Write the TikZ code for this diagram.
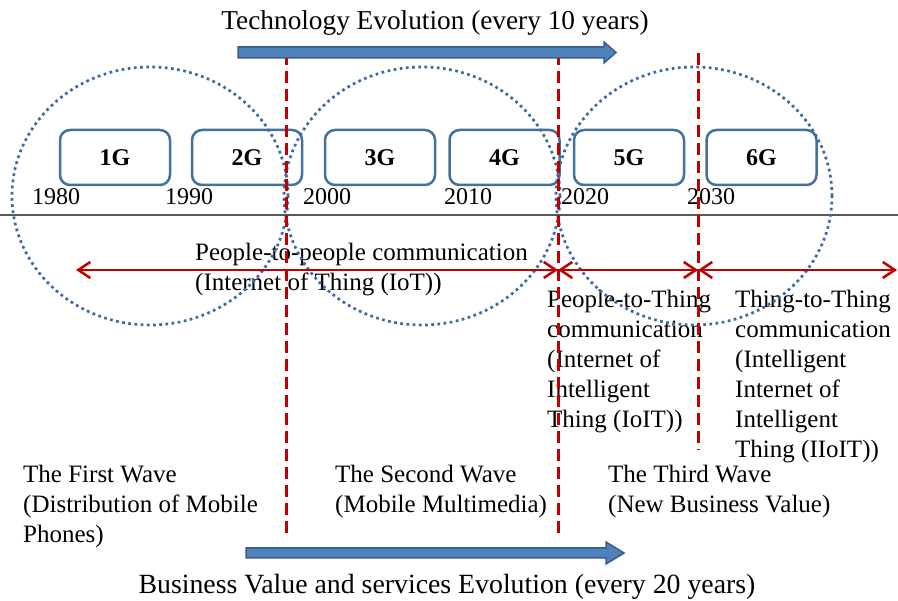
\documentclass[tikz,border=0pt]{standalone}
\usepackage{fontspec}
\setmainfont{Liberation Serif}
\usetikzlibrary{arrows.meta}
\definecolor{techblue}{HTML}{4F81BD}
\definecolor{techblueedge}{HTML}{385D8A}
\definecolor{boxedge}{HTML}{41719C}
\definecolor{dotblue}{HTML}{3C6AA0}
\definecolor{wavered}{HTML}{C00000}
\definecolor{axisgray}{HTML}{595959}
\tikzset{
 gbox/.style={draw=boxedge, line width=2.5pt, rounded corners=10pt, minimum width=110pt, minimum height=55pt, inner sep=0pt, font=\fontsize{24}{28}\selectfont\bfseries},
 yearlbl/.style={anchor=base west, inner sep=0pt, font=\fontsize{24}{28}\selectfont},
 bodytxt/.style={anchor=north west, inner sep=0pt, align=left, font=\fontsize{25}{30}\selectfont},
 titletxt/.style={anchor=base, inner sep=0pt, font=\fontsize{27.3}{32}\selectfont},
 era/.style={draw=dotblue, line width=2.7pt, dash pattern=on 2.7pt off 3.5pt},
 divider/.style={draw=wavered, line width=3pt, dash pattern=on 12pt off 6pt},
 commarrow/.style={draw=wavered, line width=2.5pt, {Straight Barb[length=12pt,width=16pt]}-{Straight Barb[length=12pt,width=16pt]}},
 bigarrow/.style={fill=techblue, draw=techblueedge, line width=1.5pt, line join=miter},
}
\begin{document}
\begin{tikzpicture}[x=1pt,y=-1pt]
\fill[white] (0,0) rectangle (898,601);
\useasboundingbox (0,0) rectangle (898,601);

% texts
\node[titletxt] (tech) at (435,30) {Technology Evolution (every 10 years)};
\node[titletxt, font=\fontsize{27.8}{32}\selectfont] (biz) at (447,594) {Business Value and services Evolution (every 20 years)};
\node[bodytxt] (p2p) at (195,239) {\strut People-to-people communication\\\strut(Internet of Thing (IoT))};
\node[bodytxt] (p2t) at (547,286) {\strut People-to-Thing\\\strut communication\\\strut(Internet of\\\strut Intelligent\\\strut Thing (IoIT))};
\node[bodytxt] (t2t) at (735,286) {\strut Thing-to-Thing\\\strut communication\\\strut(Intelligent\\\strut Internet of\\\strut Intelligent\\\strut Thing (IIoIT))};
\node[bodytxt] (wave1) at (23,461) {\strut The First Wave\\\strut(Distribution of Mobile\\\strut Phones)};
\node[bodytxt] (wave2) at (335,461) {\strut The Second Wave\\\strut(Mobile Multimedia)};
\node[bodytxt] (wave3) at (608,461) {\strut The Third Wave\\\strut(New Business Value)};

% years
\node[yearlbl] (y1980) at (32,205) {1980};
\node[yearlbl] (y1990) at (165,205) {1990};
\node[yearlbl] (y2000) at (303,205) {2000};
\node[yearlbl] (y2010) at (444,205) {2010};
\node[yearlbl] (y2020) at (561,205) {2020};
\node[yearlbl] (y2030) at (687,205) {2030};

% generation boxes
\node[gbox] (g1) at (115,157.5) {1G};
\node[gbox] (g2) at (247,157.5) {2G};
\node[gbox] (g3) at (380,157.5) {3G};
\node[gbox] (g4) at (504.5,157.5) {4G};
\node[gbox] (g5) at (629,157.5) {5G};
\node[gbox] (g6) at (761.5,157.5) {6G};

% timeline axis
\coordinate (axl) at (0,215);
\coordinate (axr) at (898,215);
\draw[axisgray, line width=1.2pt] (axl) -- (axr);

% era circles
\draw[era] (150,196) ellipse [x radius=138pt, y radius=129pt];
\draw[era] (422,196) ellipse [x radius=138pt, y radius=129pt];
\draw[era] (694,196) ellipse [x radius=138pt, y radius=129pt];

% dividers
\coordinate (v1t) at (286,53); \coordinate (v1b) at (286,535);
\coordinate (v2t) at (558,53); \coordinate (v2b) at (558,535);
\coordinate (v3t) at (698,53); \coordinate (v3b) at (698,450);
\draw[divider] (v1t) -- (v1b);
\draw[divider] (v2t) -- (v2b);
\draw[divider] (v3t) -- (v3b);

% communication arrows
\coordinate (c0) at (76,270);
\coordinate (c1) at (558,270);
\coordinate (c2) at (698,270);
\coordinate (c3) at (897,270);
\draw[commarrow] (c0) -- (c1);
\draw[commarrow] (c1) -- (c2);
\draw[commarrow] (c2) -- (c3);

% big blue arrows
\draw[bigarrow] (238,47) -- (604,47) -- (604,42) -- (616,52.5) -- (604,63) -- (604,58) -- (238,58) -- cycle;
\draw[bigarrow] (246,548) -- (606,548) -- (606,542) -- (624,553) -- (606,564) -- (606,558) -- (246,558) -- cycle;
\end{tikzpicture}
\end{document}
